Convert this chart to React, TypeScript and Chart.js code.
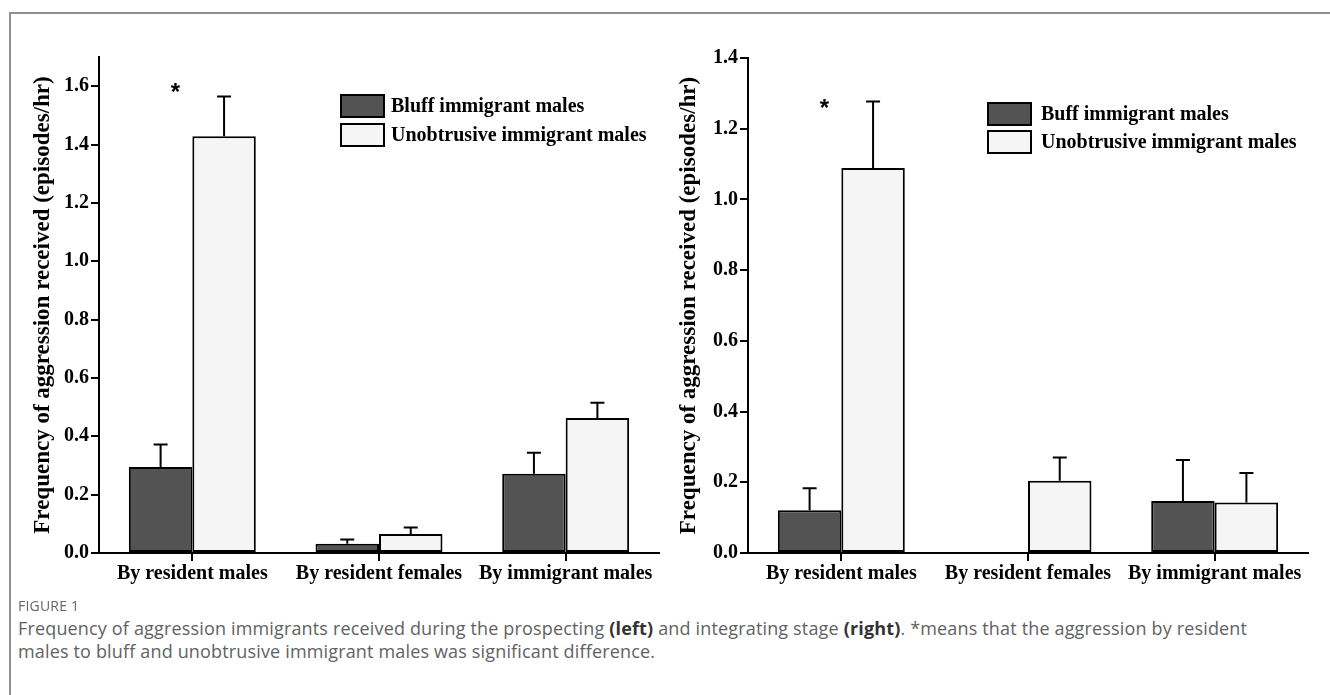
import React, { useEffect, useRef } from "react";
import { Chart, registerables } from "chart.js";
Chart.register(...registerables);

const categories = ["By resident males", "By resident females", "By immigrant males"];

const leftBluff = [0.295, 0.032, 0.272];
const leftBluffSE = [0.077, 0.014, 0.072];
const leftUnob = [1.428, 0.065, 0.463];
const leftUnobSE = [0.137, 0.022, 0.052];

const rightBuff = [0.121, null, 0.147];
const rightBuffSE = [0.062, null, 0.116];
const rightUnob = [1.089, 0.204, 0.143];
const rightUnobSE = [0.188, 0.066, 0.083];

const leftLegend = ["Bluff immigrant males", "Unobtrusive immigrant males"];
const rightLegend = ["Buff immigrant males", "Unobtrusive immigrant males"];
const yTitle = "Frequency of aggression received (episodes/hr)";

const leftYMax = 1.7;
const rightYMax = 1.4;
const yStep = 0.2;
const leftStarValue = 1.6;
const rightStarValue = 1.275;

const DARK = "#535353";
const LIGHT = "#f5f5f5";
const SERIF = "'Liberation Serif', 'Times New Roman', serif";

const extrasPlugin = {
  id: "extras",
  afterDatasetsDraw(chart: any, _args: any, opts: any) {
    const ctx = chart.ctx;
    const ys = chart.scales.y;
    const xs = chart.scales.x;
    ctx.save();
    ctx.strokeStyle = "#000";
    ctx.lineWidth = 2;
    chart.data.datasets.forEach((ds: any, i: number) => {
      const meta = chart.getDatasetMeta(i);
      meta.data.forEach((el: any, j: number) => {
        const v = ds.data[j];
        const se = ds.se[j];
        if (v == null || se == null) return;
        const top = ys.getPixelForValue(v);
        const cap = ys.getPixelForValue(v + se);
        ctx.beginPath();
        ctx.moveTo(el.x, top);
        ctx.lineTo(el.x, cap);
        ctx.moveTo(el.x - 7, cap);
        ctx.lineTo(el.x + 7, cap);
        ctx.stroke();
      });
    });
    // significance star
    const el0 = chart.getDatasetMeta(0).data[0];
    const cx = xs.getPixelForValue(0);
    const sx = (el0.x + cx) / 2 - 1;
    const sy = ys.getPixelForValue(opts.star);
    ctx.fillStyle = "#000";
    ctx.font = "bold 24px 'Liberation Sans', Arial, sans-serif";
    ctx.textAlign = "center";
    ctx.textBaseline = "alphabetic";
    ctx.fillText("*", sx, sy + 14);
    // legend
    ctx.font = `bold 20px ${SERIF}`;
    ctx.textAlign = "left";
    ctx.textBaseline = "middle";
    opts.labels.forEach((lab: string, k: number) => {
      const yc = opts.rows[k];
      const ds = chart.data.datasets[k];
      ctx.fillStyle = ds.backgroundColor;
      ctx.fillRect(opts.boxX, yc - 11, 43, 22);
      ctx.strokeStyle = "#000";
      ctx.lineWidth = 2;
      ctx.strokeRect(opts.boxX, yc - 11, 43, 22);
      ctx.fillStyle = "#000";
      ctx.fillText(lab, opts.textX, yc + 1);
    });
    ctx.restore();
  },
};

function makeConfig(
  a: (number | null)[], aSE: (number | null)[], b: (number | null)[], bSE: (number | null)[],
  yMax: number, yAxisWidth: number, titlePad: number, padTop: number, padRight: number,
  legend: { labels: string[]; rows: number[]; boxX: number; textX: number; star: number }
): any {
  return {
    type: "bar",
    data: {
      labels: categories,
      datasets: [
        { label: legend.labels[0], data: a, se: aSE, backgroundColor: DARK, borderColor: "#000", borderWidth: 2, borderSkipped: false, categoryPercentage: 0.68, barPercentage: 1.0 },
        { label: legend.labels[1], data: b, se: bSE, backgroundColor: LIGHT, borderColor: "#000", borderWidth: 2, borderSkipped: false, categoryPercentage: 0.68, barPercentage: 1.0 },
      ],
    },
    options: {
      responsive: false,
      animation: false,
      devicePixelRatio: 1,
      layout: { padding: { top: padTop, right: padRight, left: 0, bottom: 0 } },
      plugins: {
        legend: { display: false },
        tooltip: { enabled: false },
        extras: legend,
      },
      scales: {
        x: {
          offset: true,
          grid: { display: true, drawOnChartArea: false, drawTicks: true, offset: false, tickLength: 8, color: "#000", lineWidth: 2 },
          border: { display: true, color: "#000", width: 2 },
          ticks: { color: "#000", padding: 1, font: { family: SERIF, size: 20, weight: "bold" }, maxRotation: 0, autoSkip: false },
          afterFit: (s: any) => { s.height = 47; },
        },
        y: {
          min: 0,
          max: yMax,
          grid: { display: true, drawOnChartArea: false, drawTicks: true, tickLength: 8, color: "#000", lineWidth: 2 },
          border: { display: true, color: "#000", width: 2 },
          ticks: {
            stepSize: yStep,
            includeBounds: false,
            color: "#000",
            padding: 2,
            font: { family: SERIF, size: 20, weight: "bold" },
            callback: (v: any) => Number(v).toFixed(1),
          },
          title: {
            display: true,
            text: yTitle,
            color: "#000",
            font: { family: SERIF, size: 23, weight: "bold" },
            padding: { top: titlePad, bottom: 0 },
          },
          afterFit: (s: any) => { s.width = yAxisWidth; },
        },
      },
    },
    plugins: [extrasPlugin],
  };
}

export default function App() {
  const leftRef = useRef<HTMLCanvasElement>(null);
  const rightRef = useRef<HTMLCanvasElement>(null);

  useEffect(() => {
    const c1 = new Chart(
      leftRef.current as HTMLCanvasElement,
      makeConfig(leftBluff, leftBluffSE, leftUnob, leftUnobSE, leftYMax, 99, 29, 57, 21, {
        labels: leftLegend, rows: [106, 135], boxX: 341, textX: 391, star: leftStarValue,
      })
    );
    const c2 = new Chart(
      rightRef.current as HTMLCanvasElement,
      makeConfig(rightBuff, rightBuffSE, rightUnob, rightUnobSE, rightYMax, 93, 20, 58, 22, {
        labels: rightLegend, rows: [114, 142], boxX: 333, textX: 386, star: rightStarValue,
      })
    );
    return () => {
      c1.destroy();
      c2.destroy();
    };
  }, []);

  const bold = { color: "#333", fontWeight: 700 };
  return (
    <div style={{ position: "absolute", left: 0, top: 0, width: 1330, height: 695, background: "#fff", overflow: "hidden" }}>
      <div style={{ position: "absolute", left: 9, top: 12, width: 1340, height: 700, borderTop: "2px solid #8f8f8f", borderLeft: "2px solid #8f8f8f" }} />
      <canvas ref={leftRef} width={680} height={600} style={{ position: "absolute", left: 0, top: 0, width: 680, height: 600 }} />
      <canvas ref={rightRef} width={675} height={600} style={{ position: "absolute", left: 655, top: 0, width: 675, height: 600 }} />
      <div style={{ position: "absolute", left: 18, top: 597, fontFamily: "'Open Sans', sans-serif", fontSize: 14, lineHeight: "18px", color: "#666", letterSpacing: 0.2 }}>
        FIGURE 1
      </div>
      <div style={{ position: "absolute", left: 18, top: 617, fontFamily: "'Open Sans', sans-serif", fontSize: 18, lineHeight: "23px", color: "#626262", whiteSpace: "nowrap", letterSpacing: 0.16 }}>
        Frequency of aggression immigrants received during the prospecting <b style={bold}>(left)</b> and integrating stage <b style={bold}>(right)</b>. *means that the aggression by resident
        <br />
        males to bluff and unobtrusive immigrant males was significant difference.
      </div>
    </div>
  );
}
